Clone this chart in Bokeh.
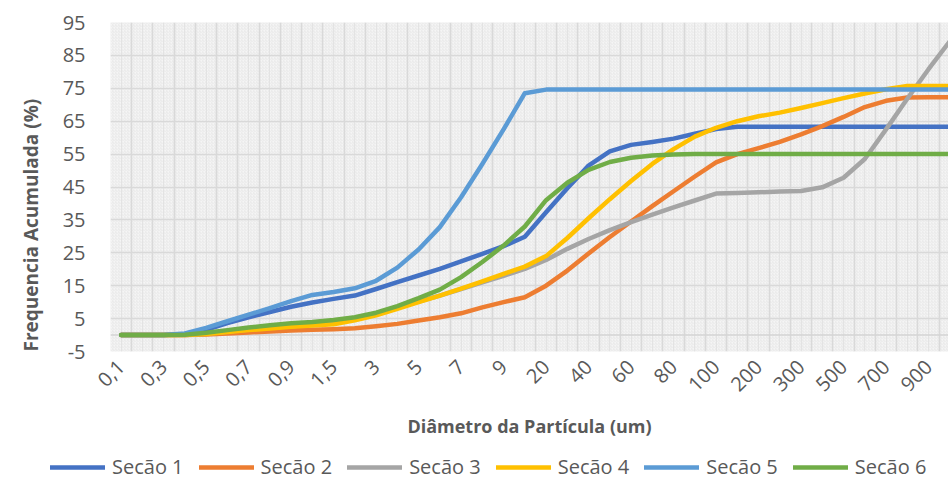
import numpy as np
from bokeh.plotting import figure
from bokeh.layouts import column
from bokeh.models import (ColumnDataSource, FixedTicker, Legend, LegendItem, Span,
                          BoxAnnotation, Range1d, Title)
from bokeh.embed import file_html
from bokeh.resources import INLINE

categories = ["0,1", "0,2", "0,3", "0,4", "0,5", "0,6", "0,7", "0,8", "0,9", "1",
              "1,5", "2", "3", "4", "5", "6", "7", "8", "9", "10",
              "20", "30", "40", "50", "60", "70", "80", "90", "100", "150",
              "200", "250", "300", "400", "500", "600", "700", "800", "900", "1000"]

secao1 = [0, 0, 0, 0.3, 1.6, 3.6, 5.4, 7.0, 8.6, 9.9,
          11.0, 12.0, 14.0, 16.1, 18.1, 20.1, 22.4, 24.7, 27.0, 29.9,
          37.3, 44.6, 51.5, 55.8, 57.8, 58.7, 59.7, 61.2, 62.6, 63.3,
          63.3, 63.3, 63.3, 63.3, 63.3, 63.3, 63.3, 63.3, 63.3, 63.3]
secao2 = [0, 0, 0, 0, 0.2, 0.5, 0.8, 1.1, 1.4, 1.6,
          1.8, 2.1, 2.7, 3.4, 4.4, 5.4, 6.6, 8.4, 10.0, 11.5,
          15.0, 19.6, 24.8, 29.8, 34.5, 39.2, 43.7, 48.2, 52.5, 55.0,
          56.8, 58.7, 61.0, 63.5, 66.3, 69.3, 71.2, 72.2, 72.3, 72.3]
secao3 = [0, 0, 0, 0, 0.4, 1.0, 1.7, 2.3, 2.8, 3.3,
          3.9, 4.9, 6.5, 8.3, 10.2, 12.0, 14.0, 16.0, 18.0, 20.1,
          22.8, 26.2, 29.2, 31.9, 34.3, 36.6, 38.8, 40.9, 43.0, 43.2,
          43.4, 43.6, 43.8, 44.9, 47.8, 53.5, 62.5, 71.8, 80.8, 89.3]
secao4 = [0, 0, 0, 0, 0.3, 0.9, 1.5, 2.0, 2.5, 2.9,
          3.3, 4.5, 6.0, 8.0, 10.0, 12.0, 14.1, 16.3, 18.6, 20.8,
          24.0, 29.5, 35.5, 41.3, 46.8, 52.0, 56.5, 60.3, 63.0, 65.0,
          66.5, 67.6, 69.0, 70.5, 72.0, 73.4, 74.7, 75.7, 75.7, 75.7]
secao5 = [0, 0, 0, 0.5, 2.2, 4.2, 6.2, 8.2, 10.3, 12.2,
          13.1, 14.2, 16.5, 20.5, 26.0, 32.8, 41.9, 52.0, 62.5, 73.5,
          74.6, 74.6, 74.6, 74.6, 74.6, 74.6, 74.6, 74.6, 74.6, 74.6,
          74.6, 74.6, 74.6, 74.6, 74.6, 74.6, 74.6, 74.6, 74.6, 74.6]
secao6 = [0, 0, 0, 0.1, 0.7, 1.5, 2.3, 3.0, 3.6, 4.0,
          4.6, 5.4, 6.8, 8.8, 11.2, 13.8, 17.6, 22.2, 27.2, 33.0,
          41.0, 46.3, 50.2, 52.6, 53.9, 54.6, 54.9, 55.0, 55.0, 55.0,
          55.0, 55.0, 55.0, 55.0, 55.0, 55.0, 55.0, 55.0, 55.0, 55.0]

series_names = ["Secão 1", "Secão 2", "Secão 3", "Secão 4", "Secão 5", "Secão 6"]
series_values = [secao1, secao2, secao3, secao4, secao5, secao6]
colors = ["#4472C4", "#ED7D31", "#A5A5A5", "#FFC000", "#5B9BD5", "#70AD47"]
y_ticks = list(range(-5, 96, 10))

FONT = "Open Sans"
TXT = "#595959"
W = 948

xi = list(range(len(categories)))
src = ColumnDataSource(dict(x=xi, **{f"s{k}": v for k, v in enumerate(series_values)}))

p = figure(width=W, height=450, output_backend="svg", toolbar_location=None,
           x_range=Range1d(-0.5, 38.94), y_range=Range1d(-5, 95),
           min_border_left=106, min_border_right=0, min_border_top=22,
           min_border_bottom=99)
p.outline_line_color = None
p.background_fill_color = "#F3F3F3"
p.border_fill_color = "white"

p.add_layout(BoxAnnotation(fill_color="#F5F5F5", fill_alpha=1.0, line_color=None,
                           hatch_pattern="/", hatch_color="#E0E0E0", hatch_scale=3,
                           hatch_weight=0.6, level="image"))

# grids
p.xgrid.ticker = FixedTicker(ticks=[i - 0.5 for i in range(len(categories) + 1)],
                             minor_ticks=xi)
p.xgrid.grid_line_color = "#D9D9D9"
p.xgrid.grid_line_width = 1.6
p.xgrid.minor_grid_line_color = "#E3E3E3"
p.xgrid.minor_grid_line_width = 1
p.ygrid.ticker = FixedTicker(ticks=y_ticks)
p.ygrid.grid_line_color = "#D9D9D9"
p.ygrid.grid_line_width = 1.6

p.add_layout(Span(location=0, dimension="width", line_color="#D4D4D4", line_width=1.6,
                  level="underlay"))

# axes
p.xaxis.ticker = FixedTicker(ticks=xi[::2])
p.xaxis.major_label_overrides = {i: categories[i] for i in xi[::2]}
p.xaxis.major_label_orientation = np.pi / 4
p.yaxis.ticker = FixedTicker(ticks=y_ticks)
p.yaxis.major_label_overrides = {t: str(t) for t in y_ticks}
for ax in (p.xaxis[0], p.yaxis[0]):
    ax.axis_line_color = None
    ax.major_tick_line_color = None
    ax.minor_tick_line_color = None
    ax.major_label_text_font = FONT
    ax.major_label_text_font_size = "20px"
    ax.major_label_text_color = TXT
p.yaxis.major_label_standoff = 19
p.xaxis.major_label_standoff = 6

p.xaxis.axis_label = "Diâmetro da Partícula (um)"
p.xaxis.axis_label_text_font = FONT
p.xaxis.axis_label_text_font_style = "bold"
p.xaxis.axis_label_text_font_size = "18px"
p.xaxis.axis_label_text_color = TXT
p.xaxis.axis_label_standoff = 13

ytitle = Title(text="Frequencia Acumulada (%)", align="left", offset=0, standoff=31,
               text_font=FONT, text_font_style="bold", text_font_size="19px",
               text_color=TXT)
p.add_layout(ytitle, "left")

for k, c in enumerate(colors):
    p.line("x", f"s{k}", source=src, line_color=c, line_width=4.5,
           line_join="round", line_cap="round")

# legend strip (same series, drawn out of view so only the legend shows)
pl = figure(width=W, height=32, output_backend="svg", toolbar_location=None,
            x_range=Range1d(0, 1), y_range=Range1d(1000, 1001), min_border=0,
            x_axis_location=None, y_axis_location=None)
pl.frame_align = False
pl.grid.visible = False
pl.outline_line_color = None
items = []
for k, (name, c) in enumerate(zip(series_names, colors)):
    r = pl.line("x", f"s{k}", source=src, line_color=c, line_width=4.5,
                line_cap="round")
    items.append(LegendItem(label=name, renderers=[r]))
legend = Legend(items=items, orientation="horizontal", location=(50, 2),
                glyph_width=55, glyph_height=20, label_standoff=7, spacing=15,
                label_text_font=FONT, label_text_font_size="20px",
                label_text_color=TXT, background_fill_alpha=0,
                border_line_color=None, padding=0, margin=0)
pl.add_layout(legend)

open("out.html", "w").write(file_html(column(p, pl, spacing=0), INLINE))
